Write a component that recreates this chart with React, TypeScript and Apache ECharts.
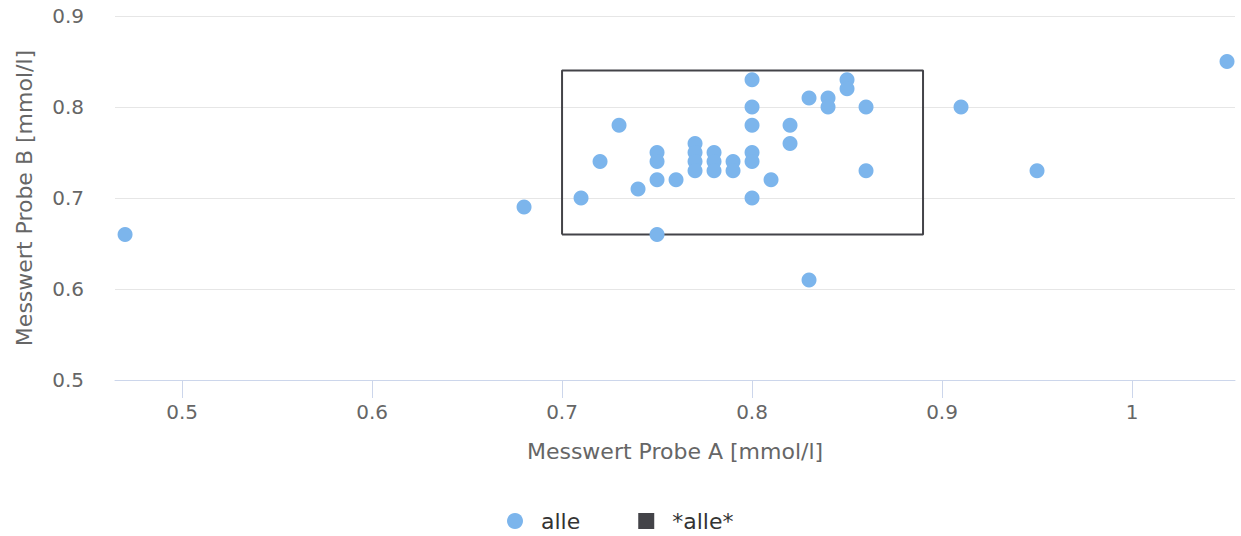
import React, { useEffect, useRef } from "react";
import * as echarts from "echarts";

const pointsX = [0.47, 0.68, 0.71, 0.72, 0.73, 0.74, 0.75, 0.75, 0.75, 0.75, 0.76, 0.77, 0.77, 0.77, 0.77, 0.78, 0.78, 0.78, 0.79, 0.79, 0.8, 0.8, 0.8, 0.8, 0.8, 0.8, 0.81, 0.82, 0.82, 0.83, 0.83, 0.84, 0.84, 0.85, 0.85, 0.86, 0.86, 0.91, 0.95, 1.05];
const pointsY = [0.66, 0.69, 0.7, 0.74, 0.78, 0.71, 0.75, 0.74, 0.72, 0.66, 0.72, 0.76, 0.75, 0.74, 0.73, 0.75, 0.74, 0.73, 0.74, 0.73, 0.83, 0.8, 0.78, 0.75, 0.74, 0.7, 0.72, 0.78, 0.76, 0.81, 0.61, 0.81, 0.8, 0.83, 0.82, 0.8, 0.73, 0.8, 0.73, 0.85];
const boxX = [0.7, 0.7, 0.89, 0.89, 0.7];
const boxY = [0.66, 0.84, 0.84, 0.66, 0.66];
const xTicks = [0.5, 0.6, 0.7, 0.8, 0.9, 1];
const seriesNames = ["alle", "*alle*"];
const FONT = "DejaVu Sans";

export default function App() {
  const ref = useRef<HTMLDivElement>(null);
  useEffect(() => {
    if (!ref.current) return;
    const chart = echarts.init(ref.current, null, { renderer: "svg" });
    chart.setOption({
      animation: false,
      textStyle: { fontFamily: FONT },
      grid: { left: 115, right: 6, top: 16, bottom: 156 },
      legend: {
        top: 505,
        left: 502,
        itemGap: 58,
        itemWidth: 16,
        itemHeight: 16,
        textStyle: { fontSize: 22, color: "#333", fontFamily: FONT, padding: [0, 0, 0, 13] },
        data: [
          { name: seriesNames[0], icon: "circle" },
          { name: seriesNames[1], icon: "rect" },
        ],
      },
      xAxis: {
        type: "value",
        min: 0.4647,
        max: 1.0542,
        name: "Messwert Probe A [mmol/l]",
        nameLocation: "middle",
        nameGap: 60,
        nameTextStyle: { fontSize: 22, color: "#666", fontFamily: FONT },
        axisLine: { show: true, onZero: false, lineStyle: { color: "#ccd6eb", width: 1 } },
        axisTick: { show: true, length: 18, customValues: xTicks, lineStyle: { color: "#ccd6eb" } },
        axisLabel: { customValues: xTicks, fontSize: 20, color: "#666", margin: 22, formatter: (v: number) => String(v) },
        splitLine: { show: false },
      },
      yAxis: {
        type: "value",
        min: 0.5,
        max: 0.9,
        interval: 0.1,
        name: "Messwert Probe B [mmol/l]",
        nameLocation: "middle",
        nameRotate: 90,
        nameGap: 80,
        nameTextStyle: { fontSize: 22, color: "#666", fontFamily: FONT },
        axisLine: { show: false },
        axisTick: { show: false },
        axisLabel: { fontSize: 20, color: "#666", margin: 31, formatter: (v: number) => String(Math.round(v * 10) / 10) },
        splitLine: { show: true, lineStyle: { color: "#e6e6e6", width: 1 } },
      },
      series: [
        {
          name: seriesNames[0],
          type: "scatter",
          symbol: "circle",
          symbolSize: 15,
          itemStyle: { color: "#7cb5ec", opacity: 1 },
          data: pointsX.map((x, i) => [x, pointsY[i]]),
          z: 3,
        },
        {
          name: seriesNames[1],
          type: "line",
          symbol: "none",
          lineStyle: { color: "#434348", width: 2 },
          itemStyle: { color: "#434348" },
          data: boxX.map((x, i) => [x, boxY[i]]),
          z: 2,
        },
      ],
    });
    return () => chart.dispose();
  }, []);
  return <div ref={ref} style={{ position: "absolute", left: 0, top: 0, width: 1241, height: 536 }} />;
}
